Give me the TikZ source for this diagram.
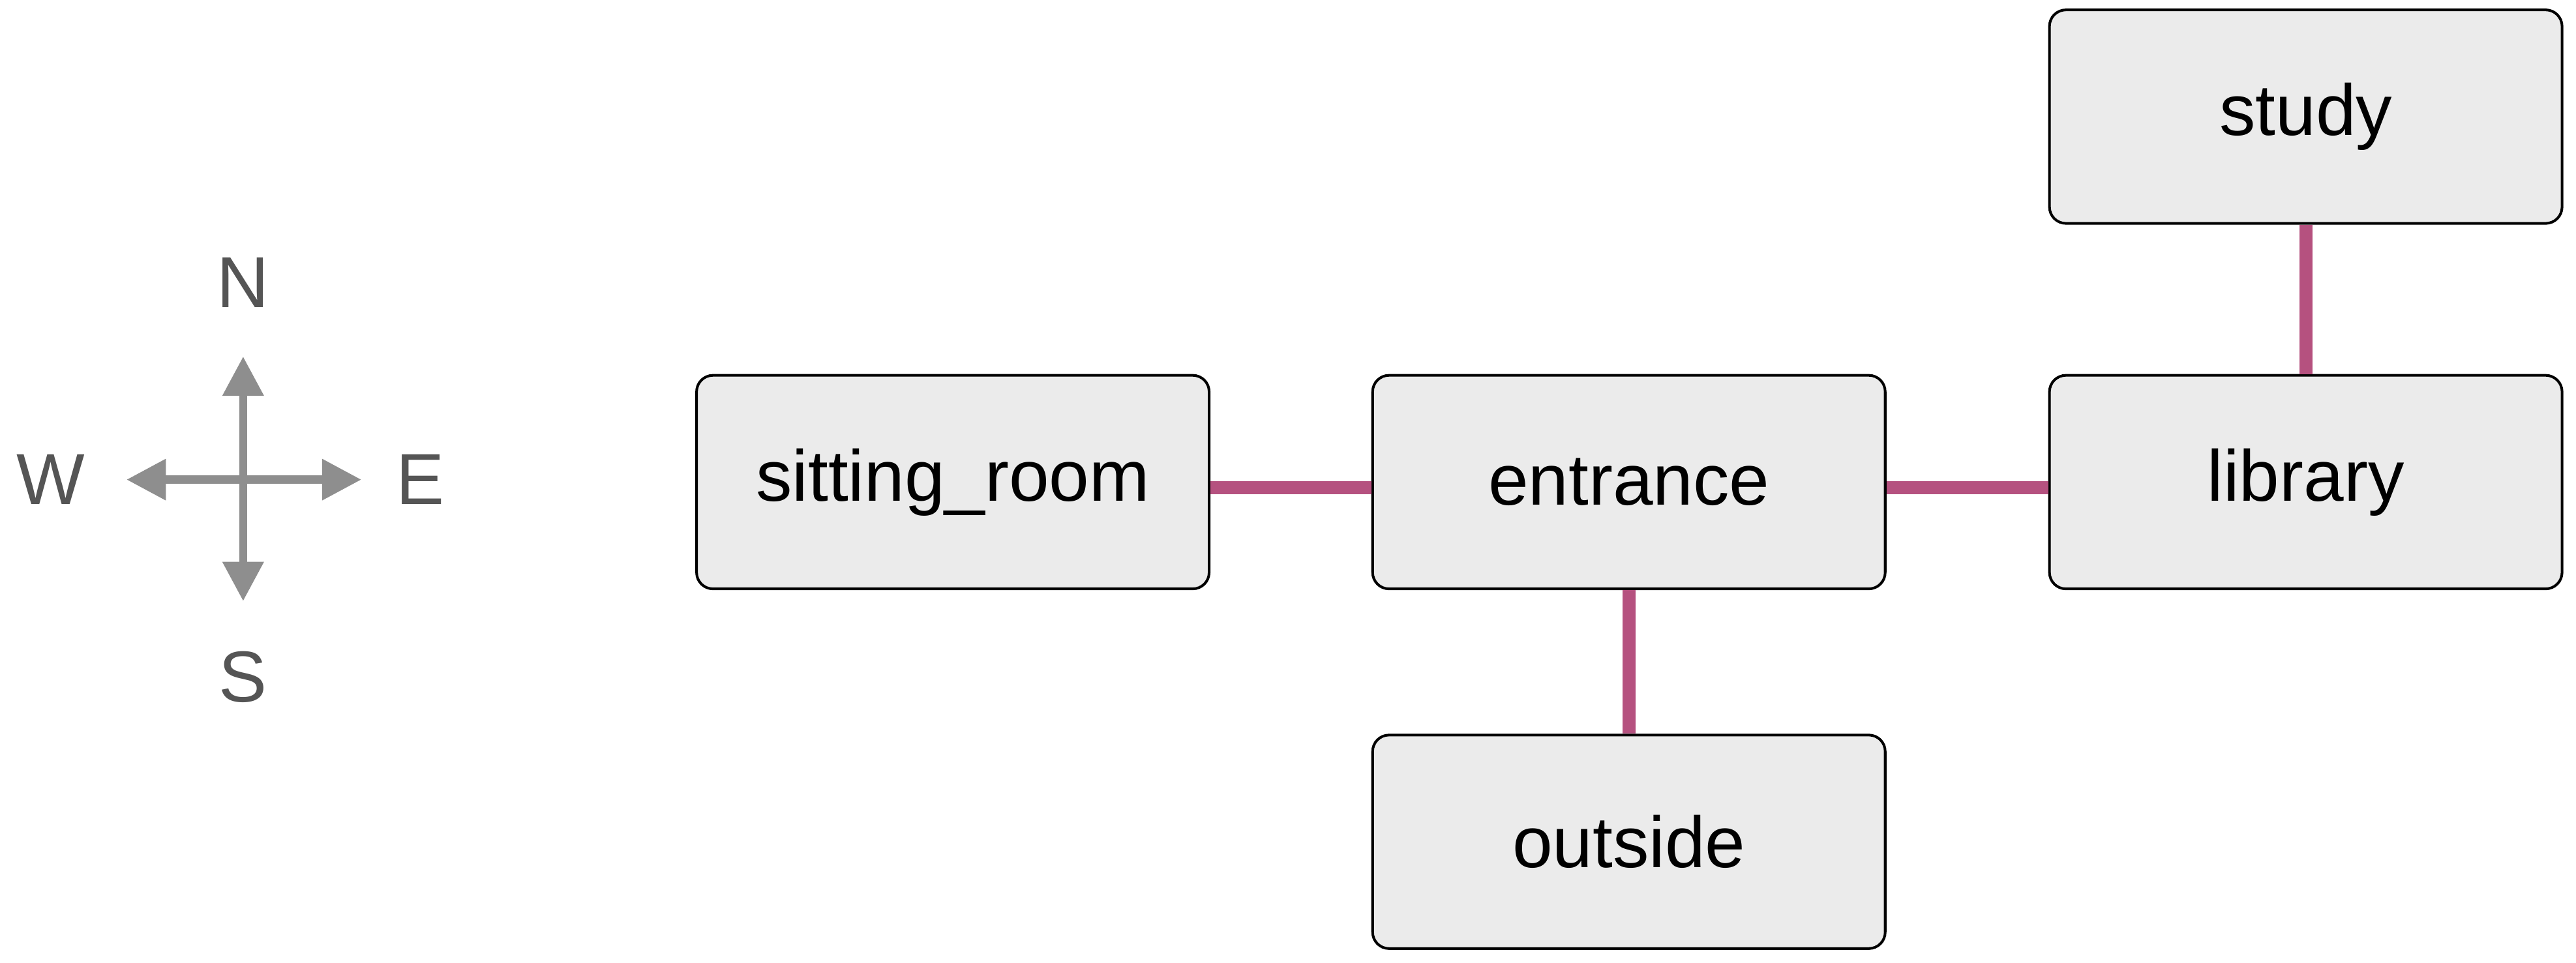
\documentclass[tikz,border=0pt]{standalone}
\usepackage{fontspec}
\setmainfont{Liberation Sans}
\usetikzlibrary{arrows.meta}
\definecolor{boxfill}{HTML}{EBEBEB}
\definecolor{link}{HTML}{B5517F}
\definecolor{comp}{HTML}{8E8E8E}
\definecolor{letter}{HTML}{555555}
\begin{document}
\begin{tikzpicture}[x=0.5pt,y=-0.5pt,
  room/.style={draw=black,line width=0.8pt,fill=boxfill,rounded corners=5pt,minimum width=156pt,minimum height=65pt,inner sep=0pt,font=\fontsize{22}{26}\selectfont},
  conn/.style={link,line width=4pt},
  carrow/.style={comp,line width=2.5pt,-{Triangle[length=12pt,width=12pt]}},
  clabel/.style={letter,font=\fontsize{22}{26}\selectfont,inner sep=0pt}]
\useasboundingbox (0,0) rectangle (1568,586);
\node[room] (sitting) at (580,293.5) {sitting\_room};
\node[room] (entrance) at (991.5,293.5) {entrance};
\node[room] (library) at (1403.5,293.5) {library};
\node[room] (study) at (1403.5,71) {study};
\node[room] (outside) at (991.5,512.5) {outside};
\draw[conn] (sitting.east |- 0,297) -- (entrance.west |- 0,297);
\draw[conn] (entrance.east |- 0,297) -- (library.west |- 0,297);
\draw[conn] (study) -- (library);
\draw[conn] (entrance) -- (outside);
\coordinate (c) at (148,292);
\coordinate (cn) at (148,217);
\coordinate (cs) at (148,366);
\coordinate (cw) at (77,292);
\coordinate (ce) at (220,292);
\draw[carrow] (c) -- (cn);
\draw[carrow] (c) -- (cs);
\draw[carrow] (c) -- (cw);
\draw[carrow] (c) -- (ce);
\node[clabel] (N) at (148,172) {N};
\node[clabel] (S) at (148,412) {S};
\node[clabel] (W) at (31,292) {W};
\node[clabel] (E) at (256,292) {E};
\end{tikzpicture}
\end{document}
